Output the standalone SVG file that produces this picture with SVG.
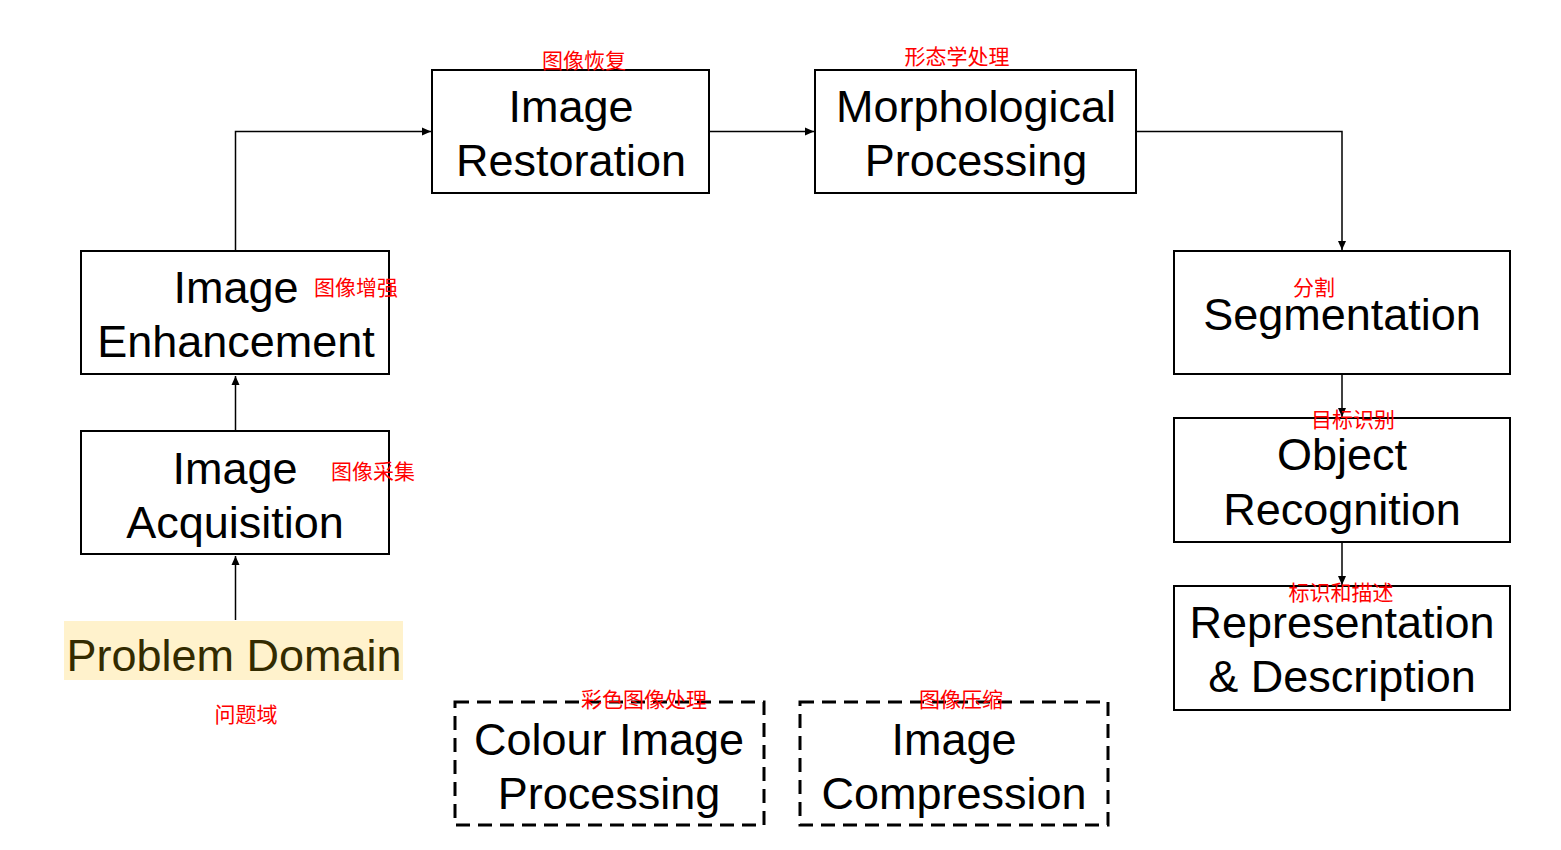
<svg xmlns="http://www.w3.org/2000/svg" width="1561" height="850" viewBox="0 0 1561 850">
<style>
.box{fill:#fff;stroke:#000;stroke-width:2}
.dash{fill:#fff;stroke:#000;stroke-width:3;stroke-dasharray:14 8}
.t{font-family:"Liberation Sans",Arial,sans-serif;font-size:45px;fill:#000;text-anchor:middle}
.cn{font-family:"Noto Sans CJK SC",sans-serif;font-size:21px;fill:#ff0000;text-anchor:middle}
.ln{fill:none;stroke:#000;stroke-width:1.5}
</style>
<defs>
<marker id="ah" markerWidth="10" markerHeight="10" refX="9" refY="5" orient="auto" markerUnits="userSpaceOnUse">
<path d="M0,1 L9,5 L0,9 Z" fill="#000"/>
</marker>
</defs>
<rect width="1561" height="850" fill="#fff"/>
<g id="connectors">
<path class="ln" d="M235.5,620 V556" marker-end="url(#ah)"/>
<path class="ln" d="M235.5,431 V376" marker-end="url(#ah)"/>
<path class="ln" d="M235.5,251 V131.5 H431" marker-end="url(#ah)"/>
<path class="ln" d="M709,131.5 H814" marker-end="url(#ah)"/>
<path class="ln" d="M1136,131.5 H1342 V250" marker-end="url(#ah)"/>
<path class="ln" d="M1342,374 V417" marker-end="url(#ah)"/>
<path class="ln" d="M1342,542 V585" marker-end="url(#ah)"/>
</g>
<g id="problem-domain">
<rect x="64" y="621" width="339" height="59" fill="#fff2cc"/>
<text class="t" x="234" y="671" style="fill:#332b00">Problem Domain</text>
<text class="cn" x="246" y="722">问题域</text>
</g>
<g id="image-acquisition">
<rect class="box" x="81" y="431" width="308" height="123"/>
<text class="t" x="235" y="484">Image</text>
<text class="t" x="235" y="538">Acquisition</text>
<text class="cn" x="373" y="479">图像采集</text>
</g>
<g id="image-enhancement">
<rect class="box" x="81" y="251" width="308" height="123"/>
<text class="t" x="236" y="303">Image</text>
<text class="t" x="236" y="357">Enhancement</text>
<text class="cn" x="356" y="295">图像增强</text>
</g>
<g id="image-restoration">
<rect class="box" x="432" y="70" width="277" height="123"/>
<text class="t" x="571" y="122">Image</text>
<text class="t" x="571" y="176">Restoration</text>
<text class="cn" x="584" y="68">图像恢复</text>
</g>
<g id="morphological-processing">
<rect class="box" x="815" y="70" width="321" height="123"/>
<text class="t" x="976" y="122">Morphological</text>
<text class="t" x="976" y="176">Processing</text>
<text class="cn" x="957" y="64">形态学处理</text>
</g>
<g id="segmentation">
<rect class="box" x="1174" y="251" width="336" height="123"/>
<text class="t" x="1342" y="330">Segmentation</text>
<text class="cn" x="1314" y="295">分割</text>
</g>
<g id="object-recognition">
<rect class="box" x="1174" y="418" width="336" height="124"/>
<text class="t" x="1342" y="470">Object</text>
<text class="t" x="1342" y="525">Recognition</text>
<text class="cn" x="1353" y="427">目标识别</text>
</g>
<g id="representation-description">
<rect class="box" x="1174" y="586" width="336" height="124"/>
<text class="t" x="1342" y="638">Representation</text>
<text class="t" x="1342" y="692">&amp; Description</text>
<text class="cn" x="1341" y="600">标识和描述</text>
</g>
<g id="colour-image-processing">
<rect class="dash" x="455" y="702" width="309" height="123"/>
<text class="t" x="609" y="755">Colour Image</text>
<text class="t" x="609" y="809">Processing</text>
<text class="cn" x="644" y="707">彩色图像处理</text>
</g>
<g id="image-compression">
<rect class="dash" x="800" y="702" width="308" height="123"/>
<text class="t" x="954" y="755">Image</text>
<text class="t" x="954" y="809">Compression</text>
<text class="cn" x="961" y="707">图像压缩</text>
</g>
</svg>
